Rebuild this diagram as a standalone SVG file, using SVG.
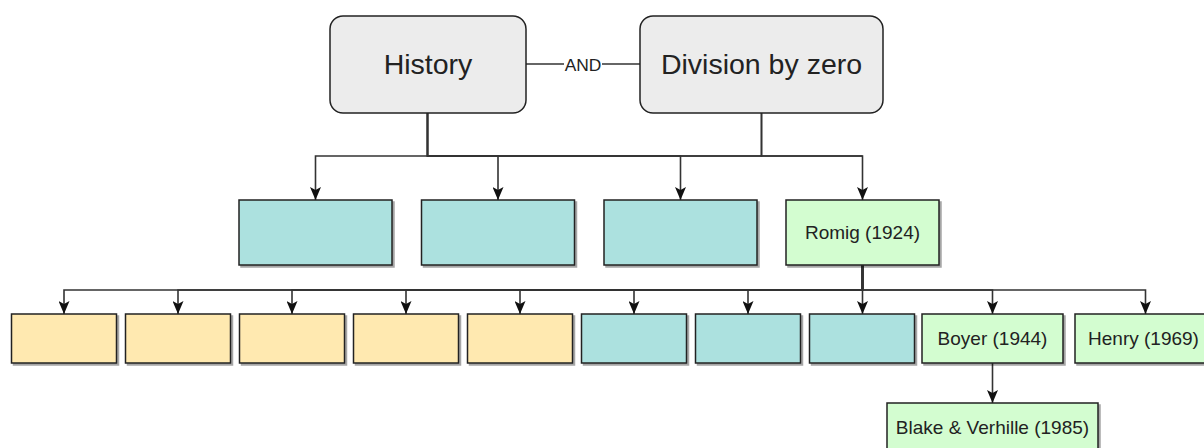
<svg xmlns="http://www.w3.org/2000/svg" width="1204" height="448" viewBox="0 0 1204 448">
  <style>
    .lbl { font-family: "Liberation Sans", Arial, sans-serif; fill: #222; text-anchor: middle; }
    .big { font-size: 28.5px; }
    .small { font-size: 19px; }
    .edge-lbl { font-size: 17.4px; }
    .topic { fill: #ececec; stroke: #222; stroke-width: 1.5; }
    .box { stroke: #222; stroke-width: 1.5; filter: url(#shade); }
    .teal { fill: #ace1df; }
    .yellow { fill: #ffe9b0; }
    .green { fill: #d3fdd0; }
    .wire { fill: none; stroke: #333; stroke-width: 1.6; }
    .arrow { marker-end: url(#head); }
  </style>
  <defs>
    <marker id="head" markerUnits="userSpaceOnUse" markerWidth="13" markerHeight="11" refX="13" refY="5.5" orient="auto" viewBox="0 0 13 11">
      <path d="M0,0 L13,5.5 L0,11 L3,5.5 Z" fill="#111"/>
    </marker>
    <filter id="shade" x="-5%" y="-5%" width="115%" height="120%">
      <feDropShadow dx="2" dy="2" stdDeviation="0.6" flood-color="#000" flood-opacity="0.35"/>
    </filter>
  </defs>

  <!-- connectors -->
  <g id="connectors">
    <!-- History / Division -> first row -->
    <path class="wire arrow" d="M427.5,113 V156 H315.5 V200"/>
    <path class="wire arrow" d="M427.5,113 V156 H498 V200"/>
    <path class="wire arrow" d="M427.5,113 V156 H680.5 V200"/>
    <path class="wire arrow" d="M427.5,113 V156 H862.5 V200"/>
    <path class="wire" d="M761.5,113 V156 H427.5"/>
    <path class="wire" d="M761.5,113 V156 H862.5"/>
    <!-- AND link -->
    <path class="wire" d="M526,64 H640"/>
    <rect x="564" y="56" width="38" height="16" fill="#fff"/>
    <text class="lbl edge-lbl" x="583" y="70.5">AND</text>
    <!-- Romig -> second row -->
    <path class="wire arrow" d="M862.5,265 V290 H64 V314"/>
    <path class="wire arrow" d="M862.5,265 V290 H178 V314"/>
    <path class="wire arrow" d="M862.5,265 V290 H292 V314"/>
    <path class="wire arrow" d="M862.5,265 V290 H406 V314"/>
    <path class="wire arrow" d="M862.5,265 V290 H520 V314"/>
    <path class="wire arrow" d="M862.5,265 V290 H634 V314"/>
    <path class="wire arrow" d="M862.5,265 V290 H748 V314"/>
    <path class="wire arrow" d="M862.5,265 V314"/>
    <path class="wire arrow" d="M862.5,265 V290 H992.5 V314"/>
    <path class="wire arrow" d="M862.5,265 V290 H1145.5 V314"/>
    <!-- Boyer -> Blake & Verhille -->
    <path class="wire arrow" d="M992.5,363 V403"/>
  </g>

  <!-- top topics -->
  <g id="history">
    <rect class="topic" x="330" y="16" width="196" height="97" rx="13"/>
    <text class="lbl big" x="428" y="73.5">History</text>
  </g>
  <g id="division">
    <rect class="topic" x="640" y="16" width="243" height="97" rx="13"/>
    <text class="lbl big" x="761.5" y="73.5">Division by zero</text>
  </g>

  <!-- first row -->
  <g id="row1-a"><rect class="box teal" x="239" y="200" width="153" height="65"/></g>
  <g id="row1-b"><rect class="box teal" x="421.5" y="200" width="153" height="65"/></g>
  <g id="row1-c"><rect class="box teal" x="604" y="200" width="153" height="65"/></g>
  <g id="romig">
    <rect class="box green" x="786" y="200" width="153" height="65"/>
    <text class="lbl small" x="862.5" y="239.3">Romig (1924)</text>
  </g>

  <!-- second row -->
  <g id="row2-1"><rect class="box yellow" x="11.5" y="314" width="105" height="49"/></g>
  <g id="row2-2"><rect class="box yellow" x="125.5" y="314" width="105" height="49"/></g>
  <g id="row2-3"><rect class="box yellow" x="239.5" y="314" width="105" height="49"/></g>
  <g id="row2-4"><rect class="box yellow" x="353.5" y="314" width="105" height="49"/></g>
  <g id="row2-5"><rect class="box yellow" x="467.5" y="314" width="105" height="49"/></g>
  <g id="row2-6"><rect class="box teal" x="581.5" y="314" width="105" height="49"/></g>
  <g id="row2-7"><rect class="box teal" x="695.5" y="314" width="105" height="49"/></g>
  <g id="row2-8"><rect class="box teal" x="809.5" y="314" width="105" height="49"/></g>
  <g id="boyer">
    <rect class="box green" x="922" y="314" width="141" height="49"/>
    <text class="lbl small" x="992.5" y="345.3">Boyer (1944)</text>
  </g>
  <g id="henry">
    <rect class="box green" x="1075" y="314" width="141" height="49"/>
    <text class="lbl small" x="1143.5" y="345.3">Henry (1969)</text>
  </g>

  <!-- third row -->
  <g id="blake-verhille">
    <rect class="box green" x="887" y="403" width="211" height="49"/>
    <text class="lbl small" x="992.5" y="434.3">Blake &amp; Verhille (1985)</text>
  </g>
</svg>
